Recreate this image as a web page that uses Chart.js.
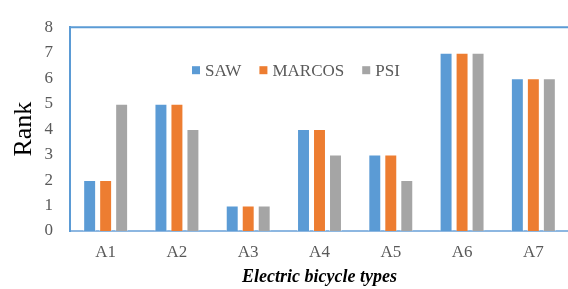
<!DOCTYPE html>
<html>
<head>
<meta charset="utf-8">
<script src="https://cdn.jsdelivr.net/npm/chart.js@4/dist/chart.umd.min.js"></script>
<style>
  html, body { margin: 0; padding: 0; background: #fff; overflow: hidden; }
  #wrap { position: relative; width: 570px; height: 289px; }
</style>
</head>
<body>
<div id="wrap"><canvas id="c"></canvas></div>
<script>
const categories = ['A1', 'A2', 'A3', 'A4', 'A5', 'A6', 'A7'];
const seriesNames = ['SAW', 'MARCOS', 'PSI'];
const sawValues = [2, 5, 1, 4, 3, 7, 6];
const marcosValues = [2, 5, 1, 4, 3, 7, 6];
const psiValues = [5, 4, 1, 3, 2, 7, 6];
const yTicks = [0, 1, 2, 3, 4, 5, 6, 7, 8];
const seriesColors = ['#5B9BD5', '#ED7D31', '#A5A5A5'];

const SERIF = "'Liberation Serif', 'Times New Roman', serif";

const frameAndLegend = {
  id: 'frameAndLegend',
  afterDatasetsDraw(chart) {
    const { ctx, chartArea } = chart;
    ctx.save();
    // top frame line
    ctx.strokeStyle = '#5B9BD5';
    ctx.lineWidth = 2;
    ctx.beginPath();
    ctx.moveTo(chartArea.left - 1, chartArea.top);
    ctx.lineTo(chartArea.right + 2, chartArea.top);
    ctx.stroke();
    // legend inside plot
    ctx.font = '17px ' + SERIF;
    ctx.textBaseline = 'middle';
    ctx.textAlign = 'left';
    let x = chartArea.left + 122;
    const y = chartArea.top + 43;
    chart.data.datasets.forEach((ds) => {
      ctx.fillStyle = ds.backgroundColor;
      ctx.fillRect(x, y - 4, 8, 8);
      x += 13;
      ctx.fillStyle = '#595959';
      ctx.fillText(ds.label, x, y + 1);
      x += ctx.measureText(ds.label).width + 18;
    });
    ctx.restore();
  }
};

const datasets = [sawValues, marcosValues, psiValues].map((vals, i) => ({
  label: seriesNames[i],
  data: vals,
  backgroundColor: seriesColors[i],
  borderColor: 'rgba(255,255,255,0.45)',
  borderWidth: 1,
  categoryPercentage: 0.673,
  barPercentage: 0.81
}));

new Chart(document.getElementById('c'), {
  type: 'bar',
  data: { labels: categories, datasets },
  plugins: [frameAndLegend],
  options: {
    responsive: true,
    maintainAspectRatio: false,
    animation: false,
    layout: { padding: { left: 0, top: 15, right: 1, bottom: 0 } },
    plugins: { legend: { display: false }, tooltip: { enabled: false } },
    scales: {
      x: {
        grid: { display: false, drawTicks: false },
        border: { display: true, color: '#8DB7E1', width: 2 },
        ticks: { color: '#595959', font: { family: SERIF, size: 17 }, padding: 11 },
        title: {
          display: true,
          text: 'Electric bicycle types',
          color: '#000',
          font: { family: SERIF, size: 18, style: 'italic', weight: 'bold' },
          padding: { top: 0, bottom: 1 }
        },
        afterFit(scale) { scale.height = 58; }
      },
      y: {
        min: 0,
        max: 8,
        afterBuildTicks(scale) { scale.ticks = yTicks.map(v => ({ value: v })); },
        grid: { display: false, drawTicks: false },
        border: { display: true, color: '#5B9BD5', width: 2 },
        ticks: { color: '#595959', font: { family: SERIF, size: 17 }, padding: 17 },
        title: {
          display: true,
          text: 'Rank',
          color: '#000',
          font: { family: SERIF, size: 26 },
          padding: { top: 9, bottom: 0 }
        },
        afterFit(scale) { scale.width = 70; }
      }
    }
  }
});
</script>
</body>
</html>
